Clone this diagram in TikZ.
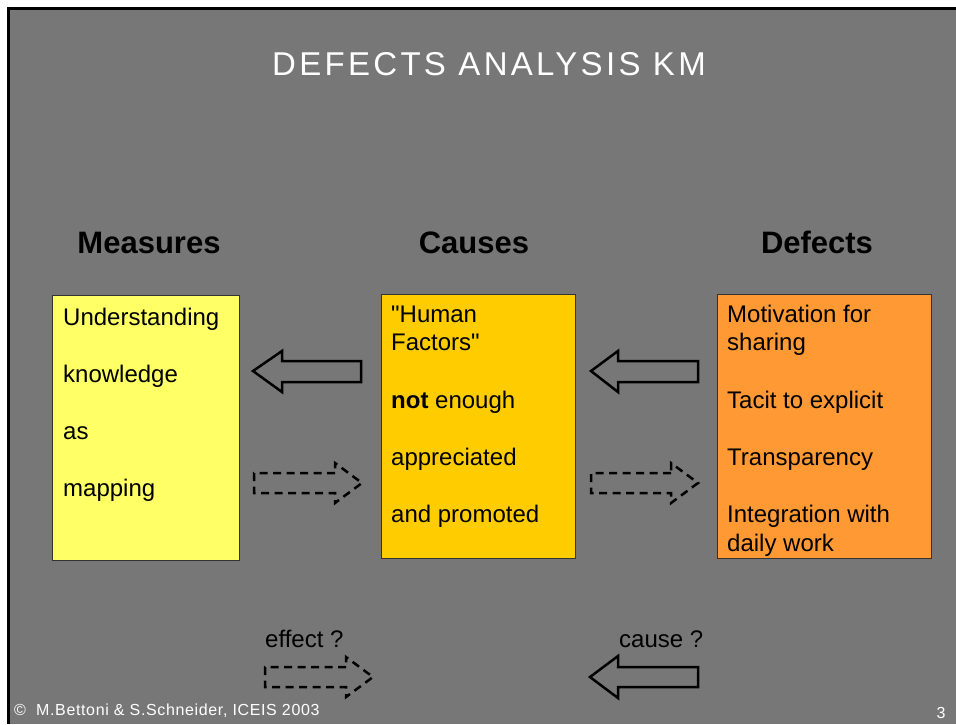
\documentclass[tikz,border=0pt]{standalone}
\usepackage{fontspec}
\setmainfont{Liberation Sans}
\newfontfamily\plainq{Liberation Sans}
\begin{document}
\begin{tikzpicture}[x=1pt,y=-1pt,
  boxtxt/.style={anchor=base west,inner sep=0pt,font=\fontsize{24}{28}\selectfont},
  quotetxt/.style={anchor=base west,inner sep=0pt,font=\plainq\fontsize{24}{28}\selectfont},
  heading/.style={anchor=base,inner sep=0pt,font=\bfseries\fontsize{31}{34}\selectfont},
  card/.style={draw=black!80,line width=1pt},
  hollow/.style={draw=black,line width=2.5pt,line join=miter},
  dashhollow/.style={draw=black,line width=2.5pt,dash pattern=on 8pt off 5.5pt},
  smalltxt/.style={anchor=base west,inner sep=0pt,font=\fontsize{24}{28}\selectfont},
  foottxt/.style={inner sep=0pt,white,font=\addfontfeatures{LetterSpace=4}\fontsize{16}{18}\selectfont}]
\definecolor{slide}{HTML}{777777}
\definecolor{ylw}{HTML}{FFFF66}
\definecolor{gold}{HTML}{FFCC00}
\definecolor{orng}{HTML}{FF9933}
\useasboundingbox (0,0) rectangle (956,724);
\fill[white] (0,0) rectangle (956,724);
\fill[slide] (8,8.5) rectangle (956,724);
\draw[line width=3pt] (8,724) -- (8,8.5) -- (956,8.5);

% title
\node[anchor=base,inner sep=0pt,white,font=\addfontfeatures{LetterSpace=10}\fontsize{33}{36}\selectfont] (title) at (489,75) {DEFECTS ANALYSIS KM};

% headings
\node[heading] (hm) at (149,253) {Measures};
\node[heading] (hc) at (474,253) {Causes};
\node[heading] (hd) at (817,253) {Defects};

% boxes
\path[card,fill=ylw] (52,295) rectangle (239,560);
\path[card,fill=gold] (381,294) rectangle (575,558);
\path[card,fill=orng] (717,294) rectangle (931,558);

% measures text
\node[boxtxt] (m1) at (63,325) {Understanding};
\node[boxtxt] (m2) at (63,382) {knowledge};
\node[boxtxt] (m3) at (63,439) {as};
\node[boxtxt] (m4) at (63,496) {mapping};

% causes text
\node[quotetxt] (c1) at (391,322) {"Human};
\node[quotetxt] (c2) at (391,350) {Factors"};
\node[boxtxt] (c3) at (391,408) {\textbf{not} enough};
\node[boxtxt] (c4) at (391,465) {appreciated};
\node[boxtxt] (c5) at (391,522) {and promoted};

% defects text
\node[boxtxt] (d1) at (727,322) {Motivation for};
\node[boxtxt] (d2) at (727,350) {sharing};
\node[boxtxt] (d3) at (727,408) {Tacit to explicit};
\node[boxtxt] (d4) at (727,465) {Transparency};
\node[boxtxt] (d5) at (727,522) {Integration with};
\node[boxtxt] (d6) at (727,551) {daily work};

% hollow left arrows
\draw[hollow] (253,371) -- (282,351) -- (282,361) -- (361,361) -- (361,382) -- (282,382) -- (282,392) -- cycle;
\draw[hollow] (591,371) -- (618,351) -- (618,361) -- (698,361) -- (698,382) -- (618,382) -- (618,392) -- cycle;
\draw[hollow] (590,677) -- (618,656) -- (618,667) -- (698,667) -- (698,687) -- (618,687) -- (618,698) -- cycle;

% dashed right arrows
\draw[dashhollow] (335,473) -- (254,473) -- (254,493) -- (335,493) -- (335,503) -- (362,483) -- (335,463) -- cycle;
\draw[dashhollow] (671,473) -- (591,473) -- (591,493) -- (671,493) -- (671,503) -- (698,483) -- (671,463) -- cycle;
\draw[dashhollow] (346,667) -- (265,667) -- (265,687) -- (346,687) -- (346,697) -- (373,677) -- (346,657) -- cycle;

% bottom labels
\node[smalltxt] (eff) at (265,647) {effect ?};
\node[smalltxt] (cau) at (619,647) {cause ?};

% footer
\node[foottxt,anchor=base west] (foot) at (14,715) {\char"00A9\ \ M.Bettoni \& S.Schneider, ICEIS 2003};
\node[foottxt,anchor=base] (pg) at (941,718) {3};
\end{tikzpicture}
\end{document}
